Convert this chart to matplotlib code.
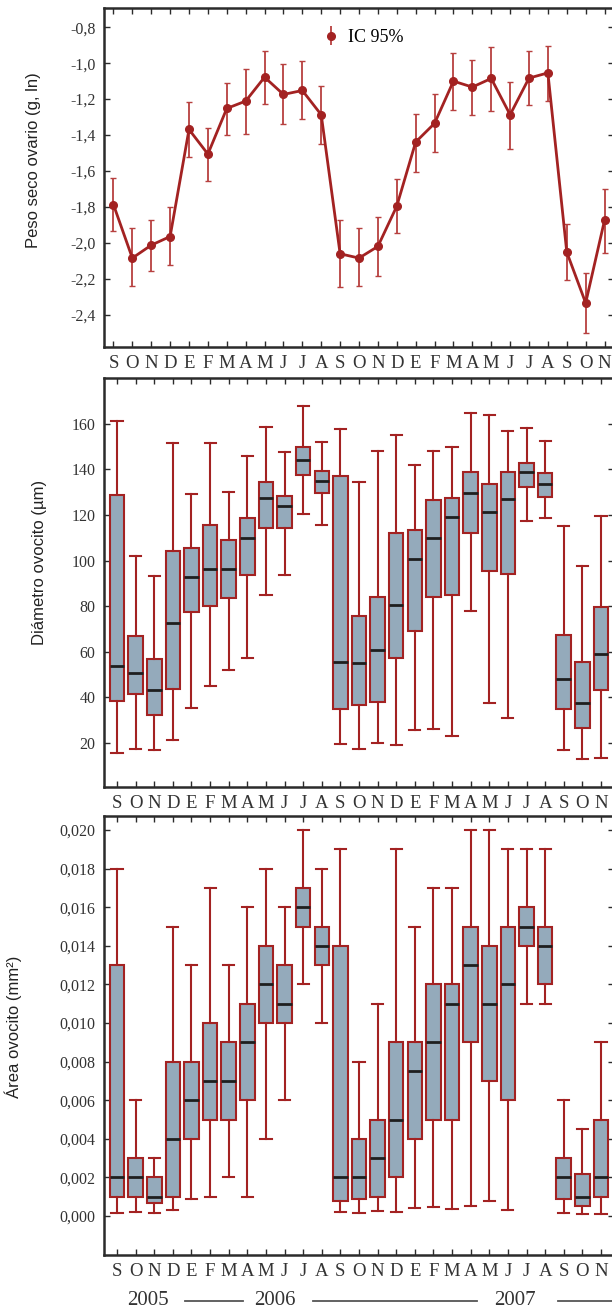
import numpy as np
import matplotlib
matplotlib.use("Agg")
import matplotlib.pyplot as plt
from matplotlib import transforms

RED = "#a32222"
RED_LIGHT = "#b7403f"
BOX_FILL = "#94aabb"
SPINE = "#2b2b2b"
TXT = "#333333"
SERIF = "Liberation Serif"
SANS = "Liberation Sans"

months = ["S", "O", "N", "D", "E", "F", "M", "A", "M", "J", "J", "A",
          "S", "O", "N", "D", "E", "F", "M", "A", "M", "J", "J", "A",
          "S", "O", "N"]

# ovary dry weight (ln g), mean and 95% CI
peso_mean = [-1.787, -2.085, -2.013, -1.965, -1.369, -1.506, -1.252, -1.211, -1.078,
             -1.174, -1.152, -1.287, -2.061, -2.085, -2.020, -1.796, -1.439, -1.335,
             -1.100, -1.133, -1.085, -1.287, -1.083, -1.054, -2.052, -2.335, -1.874]
peso_lo = [-1.933, -2.243, -2.156, -2.124, -1.520, -1.656, -1.398, -1.396, -1.228,
           -1.341, -1.313, -1.452, -2.248, -2.243, -2.187, -1.943, -1.606, -1.494,
           -1.263, -1.291, -1.267, -1.480, -1.235, -1.211, -2.206, -2.504, -2.056]
peso_hi = [-1.640, -1.920, -1.872, -1.800, -1.217, -1.359, -1.109, -1.035, -0.933,
           -1.007, -0.990, -1.128, -1.872, -1.920, -1.856, -1.643, -1.283, -1.174,
           -0.946, -0.980, -0.909, -1.104, -0.933, -0.902, -1.893, -2.170, -1.698]

# oocyte diameter (um)
diam_min = [15.5, 17.4, 16.9, 21.0, 35.4, 44.9, 51.7, 57.3, 84.7, 93.6, 120.5, 115.5,
            19.6, 17.4, 20.0, 18.8, 25.4, 25.9, 22.9, 77.8, 37.4, 31.0, 117.4, 118.5,
            16.6, 12.7, 13.4]
diam_q1 = [38.3, 41.5, 32.3, 43.7, 77.2, 80.1, 83.6, 93.6, 114.1, 114.5, 137.6, 129.6,
           34.9, 36.4, 37.9, 57.3, 68.9, 84.1, 84.7, 112.0, 95.2, 94.2, 132.5, 128.1,
           34.9, 26.6, 43.3]
diam_med = [53.8, 50.7, 43.3, 72.5, 92.6, 96.1, 96.5, 110.1, 127.5, 124.0, 144.3, 135.0,
            55.6, 54.8, 60.8, 80.3, 100.8, 109.7, 119.0, 129.6, 121.5, 127.1, 138.9, 133.5,
            47.8, 37.6, 58.8]
diam_q3 = [128.8, 66.7, 56.7, 104.0, 105.4, 115.8, 108.9, 118.9, 134.4, 128.4, 149.8, 139.4,
           137.3, 75.6, 84.1, 112.0, 113.5, 126.4, 127.5, 138.8, 133.8, 138.8, 142.9, 138.3,
           67.1, 55.3, 79.5]
diam_max = [161.3, 102.1, 93.0, 151.5, 129.4, 151.5, 129.9, 146.0, 158.8, 147.6, 167.9, 152.0,
            157.8, 134.4, 148.3, 155.3, 142.0, 148.3, 149.9, 164.8, 163.9, 156.8, 158.2, 152.4,
            115.1, 97.8, 119.6]

# oocyte area (mm2)
area_min = [0.00014, 0.0002, 0.00014, 0.0003, 0.0009, 0.001, 0.002, 0.001, 0.004,
            0.006, 0.012, 0.010, 0.0002, 0.00014, 0.00026, 0.0002, 0.0004, 0.00047,
            0.00036, 0.0005, 0.00076, 0.0003, 0.011, 0.011, 0.00014, 0.0001, 0.0001]
area_q1 = [0.001, 0.001, 0.0007, 0.001, 0.004, 0.005, 0.005, 0.006, 0.010,
           0.010, 0.015, 0.013, 0.0008, 0.0009, 0.001, 0.002, 0.004, 0.005,
           0.005, 0.009, 0.007, 0.006, 0.014, 0.012, 0.0009, 0.0005, 0.001]
area_med = [0.002, 0.002, 0.001, 0.004, 0.006, 0.007, 0.007, 0.009, 0.012,
            0.011, 0.016, 0.014, 0.002, 0.002, 0.003, 0.005, 0.0075, 0.009,
            0.011, 0.013, 0.011, 0.012, 0.015, 0.014, 0.002, 0.001, 0.002]
area_q3 = [0.013, 0.003, 0.002, 0.008, 0.008, 0.010, 0.009, 0.011, 0.014,
           0.013, 0.017, 0.015, 0.014, 0.004, 0.005, 0.009, 0.009, 0.012,
           0.012, 0.015, 0.014, 0.015, 0.016, 0.015, 0.003, 0.0022, 0.005]
area_max = [0.018, 0.006, 0.003, 0.015, 0.013, 0.017, 0.013, 0.016, 0.018,
            0.016, 0.020, 0.018, 0.019, 0.008, 0.011, 0.019, 0.015, 0.017,
            0.017, 0.020, 0.020, 0.019, 0.019, 0.019, 0.006, 0.0045, 0.009]

peso_ticks = [-2.4, -2.2, -2.0, -1.8, -1.6, -1.4, -1.2, -1.0, -0.8]
diam_ticks = [20, 40, 60, 80, 100, 120, 140, 160]
area_ticks = [0.000, 0.002, 0.004, 0.006, 0.008, 0.010, 0.012, 0.014, 0.016, 0.018, 0.020]

years = ["2005", "2006", "2007"]
year_x = [1.67, 8.49, 21.4]
year_lines = [(3.66, 6.77), (10.54, 19.35), (23.7, 27.2)]


def comma(v, nd):
    return f"{v:.{nd}f}".replace(".", ",")


def style_axis(ax, ticks, nd, pad_x):
    ax.set_xlim(-pad_x, len(months) - 1 + pad_x)
    ax.set_xticks(range(len(months)))
    ax.set_xticklabels(months, fontsize=13.5, family=SERIF, color=TXT)
    ax.set_yticks(ticks)
    ax.set_yticklabels([comma(t, nd) for t in ticks], fontsize=11.5,
                       family=SERIF, color=TXT)
    ax.tick_params(axis="both", direction="in", top=True, right=True,
                   length=4, width=1, color=SPINE)
    ax.tick_params(axis="x", pad=6)
    ax.tick_params(axis="y", pad=6)
    for s in ax.spines.values():
        s.set_color(SPINE)
        s.set_linewidth(1.8)


def boxes(ax, lo, q1, med, q3, hi):
    stats = [dict(whislo=a, q1=b, med=c, q3=d, whishi=e, fliers=[])
             for a, b, c, d, e in zip(lo, q1, med, q3, hi)]
    ax.bxp(stats, positions=range(len(stats)), widths=0.78, capwidths=0.6,
           patch_artist=True, showfliers=False,
           boxprops=dict(facecolor=BOX_FILL, edgecolor=RED, linewidth=1.5),
           medianprops=dict(color="#1e1e1e", linewidth=2),
           whiskerprops=dict(color=RED, linewidth=1.5),
           capprops=dict(color=RED, linewidth=1.5))


fig = plt.figure(figsize=(6.12, 13.10), dpi=100)
L, W = 104 / 612, 510 / 612
ax1 = fig.add_axes([L, 1 - 347 / 1310, W, 339.5 / 1310])
ax2 = fig.add_axes([L, 1 - 787 / 1310, W, 409 / 1310])
ax3 = fig.add_axes([L, 1 - 1255 / 1310, W, 439 / 1310])

# panel 1: ovary weight with 95% CI
x = np.arange(len(months))
mean = np.array(peso_mean)
err = [mean - np.array(peso_lo), np.array(peso_hi) - mean]
ax1.errorbar(x, mean, yerr=err, color=RED, lw=2, marker="o", ms=5.5,
             ecolor=RED_LIGHT, elinewidth=1.3, capsize=2, capthick=1)
h = ax1.errorbar([], [], yerr=[], color=RED, ls="none", marker="o", ms=5.5,
                 ecolor=RED_LIGHT, elinewidth=1.3, capsize=3, capthick=1)
ax1.legend([h], ["IC 95%"], loc="upper left", bbox_to_anchor=(0.40, 0.985),
           frameon=False, handlelength=0.8, handletextpad=0.5,
           prop=dict(family=SERIF, size=13))
ax1.set_ylim(-2.58, -0.69)
style_axis(ax1, peso_ticks, 1, 0.5)
ax1.set_ylabel("Peso seco ovario (g, ln)", family=SANS, fontsize=12, color="#222")
ax1.yaxis.set_label_coords(-0.1235, 0.55)

# panel 2: oocyte diameter
boxes(ax2, diam_min, diam_q1, diam_med, diam_q3, diam_max)
ax2.set_ylim(0.5, 180.2)
style_axis(ax2, diam_ticks, 0, 0.7)
ax2.set_ylabel("Diámetro ovocito (µm)", family=SANS, fontsize=12, color="#222")
ax2.yaxis.set_label_coords(-0.112, 0.55)

# panel 3: oocyte area
boxes(ax3, area_min, area_q1, area_med, area_q3, area_max)
ax3.set_ylim(-0.00202, 0.02073)
style_axis(ax3, area_ticks, 3, 0.7)
ax3.set_ylabel("Área ovocito (mm²)", family=SANS, fontsize=12, color="#222")
ax3.yaxis.set_label_coords(-0.161, 0.52)

# year row under the last panel
tr = transforms.blended_transform_factory(ax3.transData, ax3.transAxes)
for lab, xc in zip(years, year_x):
    ax3.text(xc, -0.104, lab, transform=tr, ha="center", va="center",
             family=SERIF, fontsize=15, color=TXT, clip_on=False)
for x0, x1 in year_lines:
    ax3.plot([x0, x1], [-0.104, -0.104], transform=tr, color="#555555",
             lw=1.3, clip_on=False)

fig.savefig("out.png", dpi=100)
